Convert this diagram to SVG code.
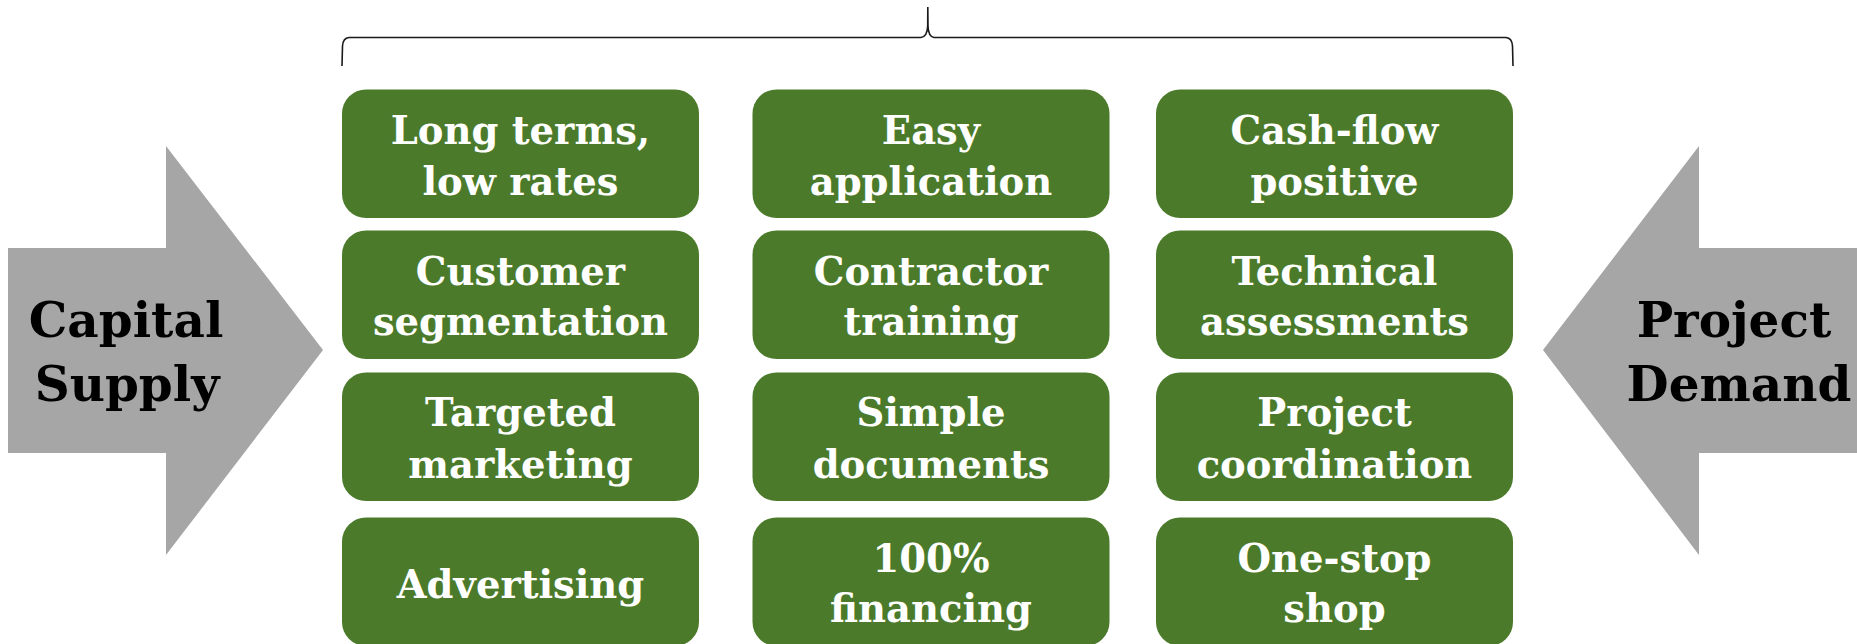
<svg xmlns="http://www.w3.org/2000/svg" width="1857" height="644" viewBox="0 0 1857 644">
<style>
.box{fill:#4b7b2a}
.bt{font-family:"DejaVu Serif","Liberation Serif",serif;font-weight:bold;font-size:38.5px;fill:#ffffff;text-anchor:middle}
.arr{fill:#a6a6a6}
.at{font-family:"DejaVu Serif","Liberation Serif",serif;font-weight:bold;font-size:48.5px;fill:#000000;text-anchor:middle}
.brace{fill:none;stroke:#1a1a1a;stroke-width:1.6}
</style>
<rect width="1857" height="644" fill="#ffffff"/>
<g id="capital-supply">
<polygon class="arr" points="8,248 166,248 166,146 323,350 166,555 166,453 8,453"/>
<text class="at" x="126" y="337">Capital</text>
<text class="at" x="127" y="401">Supply</text>
</g>
<g id="project-demand">
<polygon class="arr" points="1857,248 1699,248 1699,146 1543,350 1699,555 1699,453 1857,453"/>
<text class="at" x="1734" y="337">Project</text>
<text class="at" x="1739" y="401">Demand</text>
</g>
<g id="connectors">
<path class="brace" d="M342,66 L342.5,46 Q343,38 349,37.5 L921,37.5 Q927.3,36.5 927.7,26 L927.8,7 L928,26 Q928.3,36.5 934,37.5 L1506,37.5 Q1512,38 1512.5,46 L1513,66"/>
</g>
<g id="n-long-terms">
<rect class="box" x="342" y="89.5" width="357" height="128.5" rx="24"/>
<text class="bt" x="520.5" y="143.5">Long terms,</text>
<text class="bt" x="520.5" y="194.5">low rates</text>
</g>
<g id="n-easy-application">
<rect class="box" x="752.5" y="89.5" width="357" height="128.5" rx="24"/>
<text class="bt" x="931" y="143.5">Easy</text>
<text class="bt" x="931" y="194.5">application</text>
</g>
<g id="n-cash-flow">
<rect class="box" x="1156" y="89.5" width="357" height="128.5" rx="24"/>
<text class="bt" x="1334.5" y="143.5">Cash-flow</text>
<text class="bt" x="1334.5" y="194.5">positive</text>
</g>
<g id="n-customer-segmentation">
<rect class="box" x="342" y="230.5" width="357" height="128.5" rx="24"/>
<text class="bt" x="520.5" y="284.5">Customer</text>
<text class="bt" x="520.5" y="335">segmentation</text>
</g>
<g id="n-contractor-training">
<rect class="box" x="752.5" y="230.5" width="357" height="128.5" rx="24"/>
<text class="bt" x="931" y="284.5">Contractor</text>
<text class="bt" x="931" y="335">training</text>
</g>
<g id="n-technical-assessments">
<rect class="box" x="1156" y="230.5" width="357" height="128.5" rx="24"/>
<text class="bt" x="1334.5" y="284.5">Technical</text>
<text class="bt" x="1334.5" y="335">assessments</text>
</g>
<g id="n-targeted-marketing">
<rect class="box" x="342" y="372.5" width="357" height="128.5" rx="24"/>
<text class="bt" x="520.5" y="425.5">Targeted</text>
<text class="bt" x="520.5" y="477.5">marketing</text>
</g>
<g id="n-simple-documents">
<rect class="box" x="752.5" y="372.5" width="357" height="128.5" rx="24"/>
<text class="bt" x="931" y="425.5">Simple</text>
<text class="bt" x="931" y="477.5">documents</text>
</g>
<g id="n-project-coordination">
<rect class="box" x="1156" y="372.5" width="357" height="128.5" rx="24"/>
<text class="bt" x="1334.5" y="425.5">Project</text>
<text class="bt" x="1334.5" y="477.5">coordination</text>
</g>
<g id="n-advertising">
<rect class="box" x="342" y="517.5" width="357" height="128.5" rx="24"/>
<text class="bt" x="520.5" y="598">Advertising</text>
</g>
<g id="n-100-financing">
<rect class="box" x="752.5" y="517.5" width="357" height="128.5" rx="24"/>
<text class="bt" x="931" y="571.5">100%</text>
<text class="bt" x="931" y="622">financing</text>
</g>
<g id="n-one-stop-shop">
<rect class="box" x="1156" y="517.5" width="357" height="128.5" rx="24"/>
<text class="bt" x="1334.5" y="571.5">One-stop</text>
<text class="bt" x="1334.5" y="622">shop</text>
</g>
</svg>
